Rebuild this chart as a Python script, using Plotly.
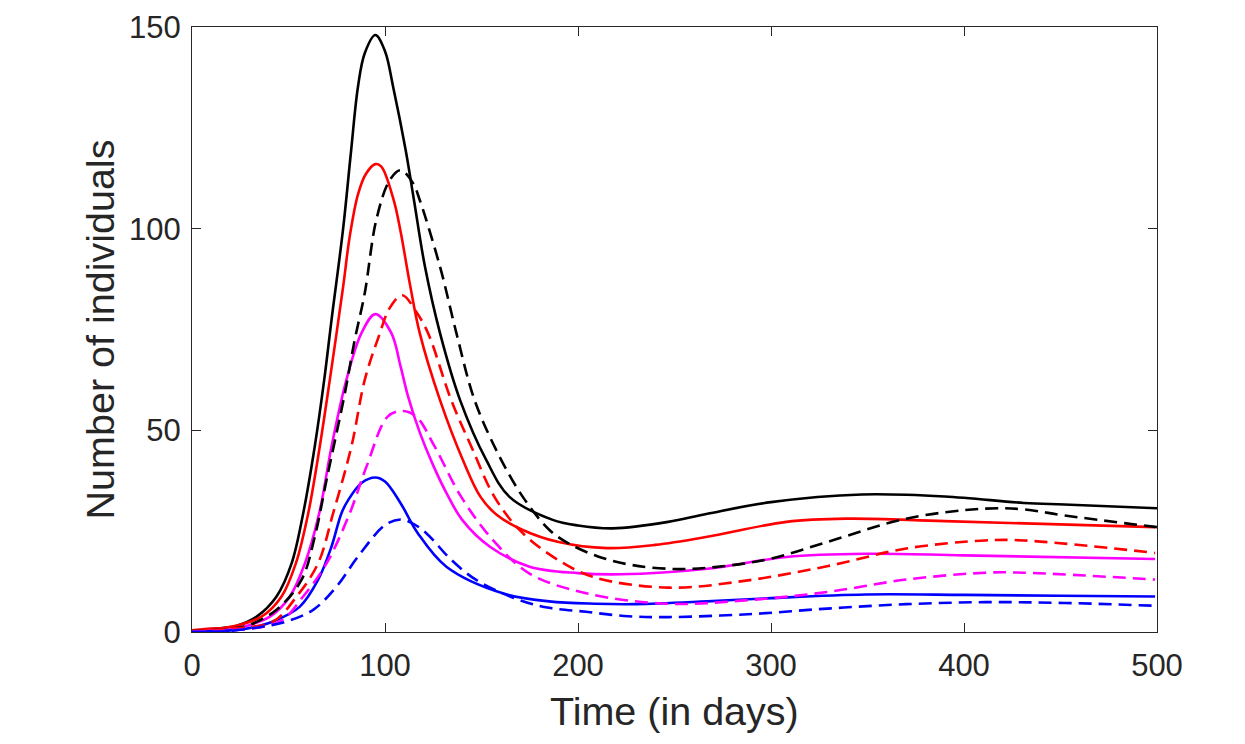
import plotly.graph_objects as go

# ---- data ----
t_black_solid = [0, 8, 16, 23, 33.5, 43.8, 51.6, 57.6, 63.6, 68.5, 72.3, 78.3, 82.3, 86, 89.5, 95, 100, 104.2, 110.7, 115, 120.7, 128.5, 138.9, 152.5, 164.5, 186.9, 200, 218, 246.7, 267, 300, 347, 390, 431, 452, 500]
y_black_solid = [0.3, 0.7, 1.0, 1.5, 3.8, 8.8, 17.0, 29.4, 46.0, 62.5, 77.4, 100.0, 118.7, 135.2, 143.5, 148.0, 144.0, 135.2, 119.5, 107.1, 90.6, 74.1, 57.5, 42.6, 33.5, 27.8, 26.4, 25.7, 27.3, 29.3, 32.2, 34.1, 33.6, 32.0, 31.6, 30.7]

t_red_solid = [0, 8, 18, 36, 46.4, 53.8, 60.2, 66.2, 71.4, 78.3, 81.7, 86, 90, 95, 98.1, 104.5, 108, 113, 118, 128.5, 140.4, 149.5, 158, 171.4, 190, 215, 240, 267, 308, 339, 390, 499]
y_red_solid = [0.4, 0.8, 1.1, 3.8, 8.8, 17.0, 29.4, 46.0, 62.5, 85.6, 98.0, 108.5, 113.5, 116.0, 115.4, 107.1, 99.5, 86.0, 74.1, 57.5, 42.6, 33.5, 29.0, 25.3, 22.3, 20.8, 21.6, 23.6, 27.3, 28.1, 27.5, 26.0]

t_magenta_solid = [0, 10, 20, 40.4, 50.7, 58.5, 65.9, 72.3, 80, 87.8, 95, 103.3, 108, 111.9, 118, 124.8, 131.8, 140, 154.2, 174.9, 200, 222, 267, 308, 349, 400, 499]
y_magenta_solid = [0.1, 0.3, 0.6, 3.8, 8.8, 17.0, 29.4, 46.0, 62.5, 74.1, 78.8, 74.1, 66.0, 58.5, 49.5, 41.5, 34.5, 27.8, 21.2, 16.2, 14.6, 14.3, 15.7, 18.6, 19.4, 19.0, 18.1]

t_blue_solid = [0, 10, 20, 30, 42, 55.9, 65.3, 72.3, 77.4, 80.9, 88, 95, 100, 108, 117, 131.8, 161, 185, 209, 230, 267, 300, 349, 400, 450, 499]
y_blue_solid = [0.1, 0.2, 0.4, 1.0, 2.6, 6.3, 12.9, 21.2, 29.4, 32.7, 37.0, 38.3, 37.3, 32.0, 24.5, 16.2, 9.6, 7.6, 7.0, 6.9, 7.6, 8.4, 9.3, 9.2, 9.0, 8.8]

t_black_dash = [0, 10, 20, 30, 43.8, 56.7, 63.6, 69.7, 79.2, 84.3, 89.5, 95.5, 102.4, 108, 114.5, 118, 128.5, 137, 146.4, 158.5, 171.4, 185.2, 195, 210, 228, 252, 275, 300, 329, 370, 411, 431, 452, 500]
y_black_dash = [0.2, 0.5, 0.8, 1.8, 5.5, 12.9, 23.6, 37.7, 59.2, 72.4, 84.0, 102.2, 112.0, 114.5, 111.3, 107.1, 90.6, 74.1, 57.5, 44.3, 33.5, 25.3, 22.0, 18.8, 16.6, 15.6, 16.3, 18.2, 22.3, 28.1, 30.6, 30.4, 28.9, 26.0]

t_red_dash = [0, 10, 20, 42, 54.2, 65.3, 73.1, 82.6, 89.5, 97, 102.4, 109, 116, 122.3, 134.3, 144.7, 156.7, 169.7, 186.9, 207.6, 247, 288, 329, 370, 411, 431, 499]
y_red_dash = [0.2, 0.5, 0.8, 2.6, 8.8, 17.0, 29.4, 46.0, 62.5, 73.6, 80.3, 83.5, 79.5, 74.1, 57.5, 46.0, 33.5, 25.3, 18.7, 13.7, 11.0, 12.8, 16.3, 20.7, 22.7, 22.7, 19.6]

t_magenta_dash = [0, 10, 20, 45.5, 57.6, 69.7, 81.7, 90.4, 101.4, 108.8, 116.2, 125.7, 139.5, 155.9, 174.9, 204.2, 247, 288, 329, 370, 411, 431, 499]
y_magenta_dash = [0.1, 0.2, 0.4, 2.6, 8.8, 17.0, 29.4, 41.0, 53.4, 54.8, 53.4, 46.0, 33.5, 22.8, 14.5, 9.6, 7.0, 7.9, 9.9, 13.0, 14.7, 14.7, 13.0]

t_blue_dash = [0, 10, 20, 35, 49, 62.8, 74.8, 86, 100, 108, 114, 121.4, 134.3, 147.3, 169.7, 185, 204.2, 226, 247, 288, 329, 370, 411, 452, 499]
y_blue_dash = [0.05, 0.1, 0.3, 1.2, 2.6, 5.5, 11.2, 18.7, 26.5, 27.9, 27.0, 24.5, 17.9, 12.9, 7.9, 6.0, 5.0, 3.9, 3.7, 4.4, 5.8, 6.9, 7.4, 7.2, 6.5]

x_ticks = [0, 100, 200, 300, 400, 500]
y_ticks = [0, 50, 100, 150]

series = [
    (t_black_solid, y_black_solid, "#000000", "solid"),
    (t_red_solid, y_red_solid, "#FF0000", "solid"),
    (t_magenta_solid, y_magenta_solid, "#FF00FF", "solid"),
    (t_blue_solid, y_blue_solid, "#0000FF", "solid"),
    (t_black_dash, y_black_dash, "#000000", "dash"),
    (t_red_dash, y_red_dash, "#FF0000", "dash"),
    (t_magenta_dash, y_magenta_dash, "#FF00FF", "dash"),
    (t_blue_dash, y_blue_dash, "#0000FF", "dash"),
]

fig = go.Figure()
for tx, vy, col, style in series:
    fig.add_trace(go.Scatter(
        x=tx, y=vy, mode="lines",
        line=dict(color=col, width=2.6, shape="spline", smoothing=1.0,
                  dash="solid" if style == "solid" else "13px,7px"),
        showlegend=False, hoverinfo="skip"))

FONT = "Arial, Liberation Sans, sans-serif"
axis_common = dict(
    showgrid=False, zeroline=False, showline=True, linecolor="#262626",
    linewidth=1, mirror="allticks", ticks="inside", ticklen=9,
    tickcolor="#262626", tickwidth=1, automargin=False,
    tickfont=dict(family=FONT, size=31, color="#262626"),
)

fig.update_layout(
    width=1237, height=736,
    margin=dict(l=184, r=88, t=19, b=112),
    paper_bgcolor="white", plot_bgcolor="white",
    xaxis=dict(range=[0, 500], tickvals=x_ticks, ticklabelstandoff=6, **axis_common),
    yaxis=dict(range=[0, 150], tickvals=y_ticks, ticklabelstandoff=4, **axis_common),
    annotations=[
        dict(text="Time (in days)", xref="paper", yref="paper", x=0.5, y=-0.1298,
             xanchor="center", yanchor="middle", showarrow=False,
             font=dict(family=FONT, size=39.5, color="#262626")),
        dict(text="Number of individuals", xref="paper", yref="paper", x=-0.0954, y=0.5,
             xanchor="center", yanchor="middle", showarrow=False, textangle=-90,
             font=dict(family=FONT, size=39.5, color="#262626")),
    ],
)

fig.write_html("out.html")
